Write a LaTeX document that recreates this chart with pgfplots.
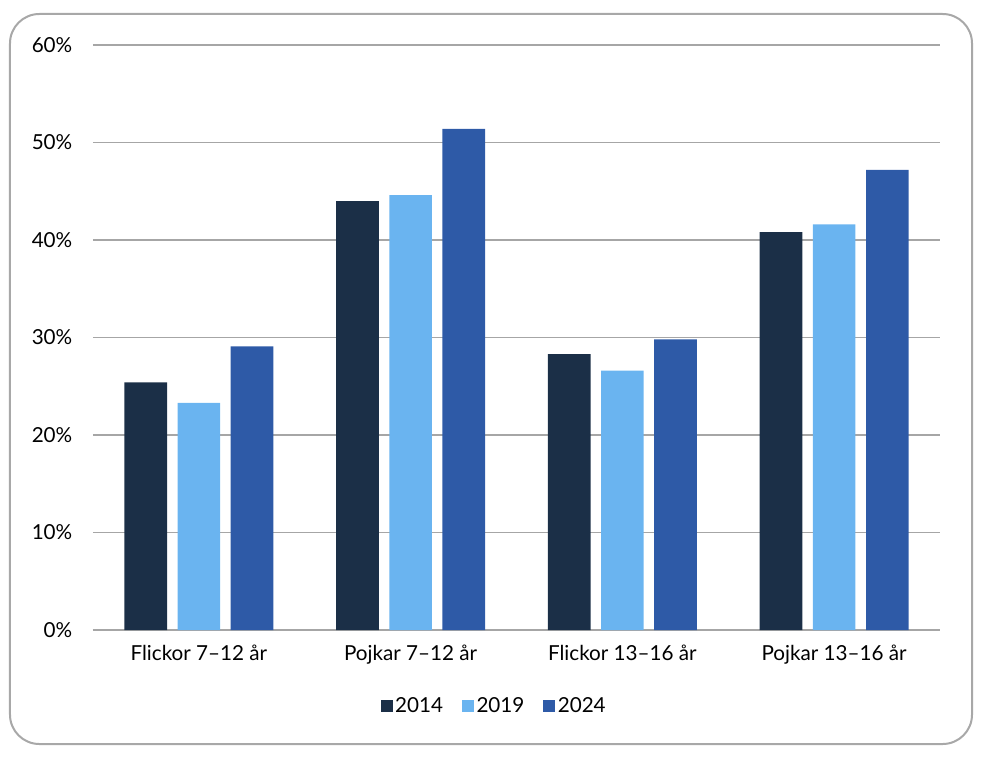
\documentclass[border=0pt]{standalone}
\usepackage{pgfplots}
\pgfplotsset{compat=1.18}
\usepackage{fontspec}
\setmainfont{Lato}
\definecolor{cA}{HTML}{1B2F47}
\definecolor{cB}{HTML}{6AB4F0}
\definecolor{cC}{HTML}{2E5AA7}
\definecolor{gridc}{HTML}{A6A6A6}
\definecolor{boxc}{HTML}{A8A8A8}
\begin{document}
\begin{tikzpicture}
\useasboundingbox (-69.75pt,-96pt) rectangle (668.25pt,472.5pt);
\draw[boxc, line width=1.5pt, rounded corners=22pt] (-62.25pt,-85.5pt) rectangle (659.25pt,462pt);
\begin{axis}[
  at={(0pt,0pt)}, anchor=south west,
  scale only axis, width=635.25pt, height=438.75pt,
  ybar=7.9pt, bar width=32pt,
  xmin=-0.5, xmax=3.5, ymin=0, ymax=60,
  xtick={0,1,2,3},
  xticklabels={Flickor 7–12 år, Pojkar 7–12 år, Flickor 13–16 år, Pojkar 13–16 år},
  ytick={0,10,20,30,40,50,60},
  yticklabel={\pgfmathprintnumber{\tick}\%},
  /pgf/number format/assume math mode=true,
  tick label style={font=\fontsize{15.5}{18}\selectfont},
  xticklabel style={yshift=-8pt},
  yticklabel style={xshift=-12pt},
  major tick length=0pt,
  ymajorgrids, grid style={gridc, line width=0.8pt},
  axis lines*=left,
  x axis line style={draw=gridc, line width=1.4pt},
  y axis line style={draw=none},
  legend style={at={(0.474,-0.13)}, anchor=center, legend columns=3, draw=none,
    font=\fontsize{15.5}{18}\selectfont,
    /tikz/every even column/.append style={column sep=12pt}},
  legend image code/.code={\fill[#1] (0pt,-4.5pt) rectangle (9pt,4.5pt);},
]
\addplot[fill=cA, draw=none] coordinates {(0,25.4) (1,44.0) (2,28.3) (3,40.8)};
\addplot[fill=cB, draw=none] coordinates {(0,23.3) (1,44.6) (2,26.6) (3,41.6)};
\addplot[fill=cC, draw=none] coordinates {(0,29.1) (1,51.4) (2,29.8) (3,47.2)};
\legend{2014,2019,2024}
\end{axis}
\end{tikzpicture}
\end{document}
